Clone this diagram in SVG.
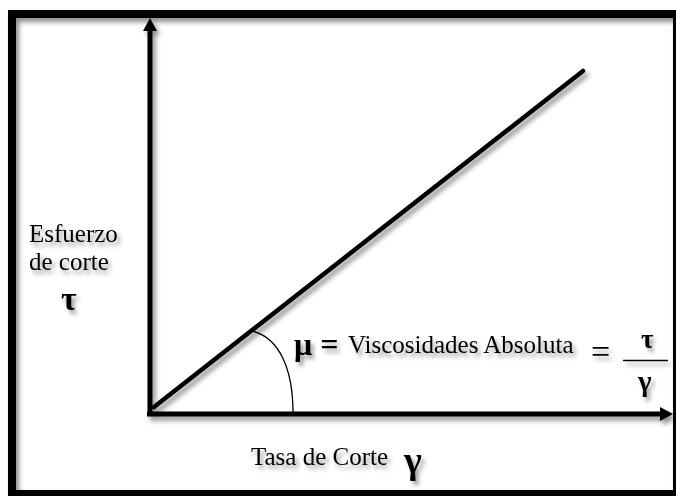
<svg xmlns="http://www.w3.org/2000/svg" width="676" height="496" viewBox="0 0 676 496">
<defs>
<filter id="sh" x="-20%" y="-20%" width="140%" height="140%">
<feDropShadow dx="3" dy="4" stdDeviation="2.5" flood-color="#000" flood-opacity="0.45"/>
</filter>
<filter id="tsh" x="-20%" y="-40%" width="140%" height="180%">
<feDropShadow dx="3" dy="4" stdDeviation="2" flood-color="#000" flood-opacity="0.4"/>
</filter>
</defs>
<style>
.t{font-family:"Liberation Serif","Times New Roman",serif;fill:#000;}
.ax{stroke:#000;stroke-width:5;fill:none;}
</style>
<rect x="0" y="0" width="676" height="496" fill="#fff"/>
<g id="frame" filter="url(#sh)">
<path d="M8 10H676V496H8Z M16 18V490H673V18Z" fill="#000" fill-rule="evenodd"/>
</g>
<g id="connectors" filter="url(#sh)">
<line class="ax" x1="150" y1="416" x2="150" y2="30"/>
<polygon points="150,18 143,31 157,31" fill="#000"/>
<line class="ax" x1="147" y1="414" x2="661" y2="414"/>
<polygon points="673,414 660,407 660,421" fill="#000"/>
<line x1="154" y1="407" x2="583" y2="71" stroke="#000" stroke-width="4.5" stroke-linecap="round"/>
</g>
<g id="angle">
<path d="M252 331 C280 338 293 370 293 413" fill="none" stroke="#000" stroke-width="1.3"/>
</g>
<g id="ylabel" filter="url(#tsh)">
<text class="t" x="29" y="242" font-size="25">Esfuerzo</text>
<text class="t" x="29" y="270" font-size="25">de corte</text>
<text class="t" x="61" y="310" font-size="34" font-weight="bold">τ</text>
</g>
<g id="xlabel" filter="url(#tsh)">
<text class="t" x="251" y="465" font-size="25">Tasa de Corte</text>
<text class="t" x="404" y="473" font-size="38" font-weight="bold">γ</text>
</g>
<g id="formula" filter="url(#tsh)">
<text class="t" x="294" y="355" font-size="32" font-weight="bold">μ =</text>
<text class="t" x="348" y="353" font-size="25">Viscosidades Absoluta</text>
<text class="t" x="591" y="363" font-size="34">=</text>
<text class="t" x="641" y="348" font-size="27" font-weight="bold">τ</text>
<line x1="623" y1="360.5" x2="668" y2="360.5" stroke="#000" stroke-width="1.5"/>
<text class="t" x="638" y="391" font-size="29" font-weight="bold">γ</text>
</g>
</svg>
